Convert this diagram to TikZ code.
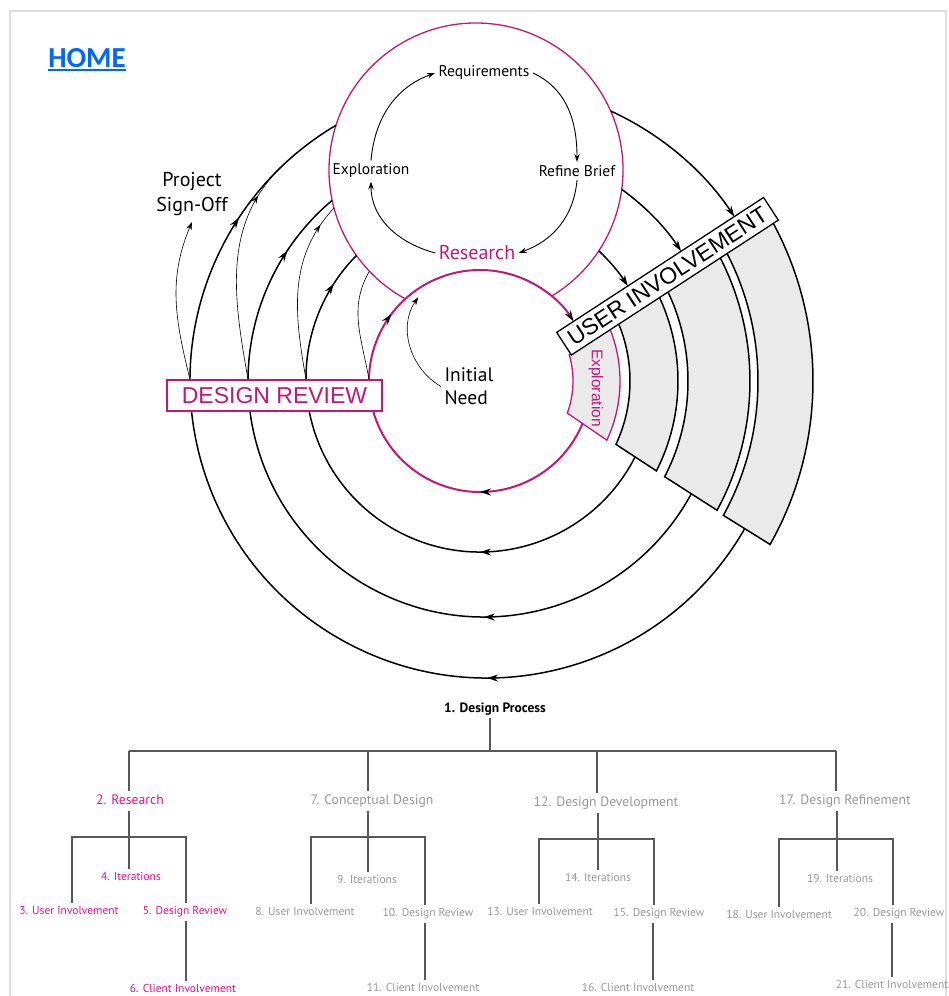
\documentclass[tikz,border=0pt]{standalone}
\usepackage{fontspec}
\setmainfont{PT Sans}
\newfontfamily\arialfont{Liberation Sans}
\newfontfamily\homefont{Carlito}
\usetikzlibrary{arrows.meta,decorations.markings}

\definecolor{mag}{RGB}{192,24,118}
\definecolor{pinktxt}{RGB}{236,10,140}
\definecolor{greytxt}{RGB}{150,150,150}
\definecolor{treeline}{RGB}{88,88,88}
\definecolor{bandgray}{RGB}{234,234,234}
\definecolor{homeblue}{RGB}{0,102,255}
\definecolor{framegray}{RGB}{222,222,222}

\tikzset{
  ring/.style={draw=black, line width=1.5pt},
  innerring/.style={draw=mag, line width=2pt},
  thinl/.style={draw=black, line width=0.6pt},
  loopl/.style={draw=black, line width=0.9pt},
  bigtip/.tip={Stealth[length=11pt,width=7pt,color=black]},
  smalltip/.tip={Stealth[length=8pt,width=5.5pt,color=black]},
  flow/.style n args={2}{postaction={decorate}, decoration={markings,
      mark=at position #1 with {\arrow{bigtip}},
      mark=at position #2 with {\arrow{bigtip}}}},
  midtip/.style={postaction={decorate}, decoration={markings,
      mark=at position #1 with {\arrow{smalltip}}}},
  band/.style={draw=black, line width=1.5pt, fill=bandgray},
  tl/.style={draw=treeline, line width=1.6pt},
  lvtwo/.style={font=\fontsize{13.7}{13.7}\selectfont, inner xsep=0pt, inner ysep=4pt,
      text height=9.5pt, text depth=3pt},
  lvthree/.style={font=\fontsize{11.5}{11.5}\selectfont, inner xsep=0pt, inner ysep=3.5pt,
      text height=8pt, text depth=2.5pt},
  pk/.style={text=pinktxt},
  gr/.style={text=greytxt},
}

\begin{document}
\begin{tikzpicture}[x=1pt,y=1pt]
\useasboundingbox (0,0) rectangle (949,-996);

% page frame
\draw[framegray, line width=2pt] (10,-1000) -- (10,-11) -- (946,-11) -- (946,-1000);

% home link
\node[font=\homefont\bfseries\fontsize{29}{29}\selectfont, text=homeblue, inner sep=0pt] (home) at (87,-58) {HOME};
\draw[homeblue, line width=2pt] ([yshift=-3pt]home.base west) -- ([yshift=-3pt]home.base east);

% research circle (upper loop)
\begin{scope}[shift={(476,-170)}]
  \draw[mag, line width=1.3pt] (-59.2:147) arc[start angle=-59.2, end angle=241.2, radius=147];
\end{scope}

% iteration rings, flowing clockwise
\begin{scope}[shift={(480,-378)}]
  \draw[ring, flow={0.322}{0.940}] (-26:174) arc[start angle=-26, end angle=-224.75, radius=174];
  \draw[ring, -bigtip] (46.95:174) arc[start angle=46.95, end angle=31.9, radius=174];
\end{scope}
\begin{scope}[shift={(484,-381)}]
  \draw[ring, flow={0.309}{0.919}] (-27.5:236) arc[start angle=-27.5, end angle=-229.96, radius=236];
  \draw[ring, -bigtip] (54.3:236) arc[start angle=54.3, end angle=33.4, radius=236];
\end{scope}
\begin{scope}[shift={(487,-381)}]
  \draw[ring, flow={0.2916}{0.8766}] (-28.5:297) arc[start angle=-28.5, end angle=-239.42, radius=297];
  \draw[ring, -bigtip] (65.38:297) arc[start angle=65.38, end angle=33.6, radius=297];
\end{scope}
\begin{scope}[shift={(480,-381)}]
  \draw[innerring, flow={0.2239}{0.6393}, -bigtip] (-21.5:111) arc[start angle=-21.5, end angle=-327.45, radius=111];

  % exploration tab and user involvement bands
  \draw[draw=mag, line width=1.3pt, fill=bandgray] (-20.2:93) -- (-25:140)
     arc[start angle=-25, end angle=22.7, radius=140] -- (16.4:93)
     arc[start angle=16.4, end angle=-20.2, radius=93] -- cycle;
  \draw[band] (-25:150) -- (-27:198) arc[start angle=-27, end angle=26.1, radius=198]
     -- (23.5:150) arc[start angle=23.5, end angle=-25, radius=150] -- cycle;
  \draw[band] (-27.4:208) -- (-28.6:270) arc[start angle=-28.6, end angle=28.3, radius=270]
     -- (26.5:208) arc[start angle=26.5, end angle=-27.4, radius=208] -- cycle;
  \draw[band] (-28.9:278) -- (-29.4:333) arc[start angle=-29.4, end angle=29.4, radius=333]
     -- (28.5:278) arc[start angle=28.5, end angle=-28.9, radius=278] -- cycle;
\end{scope}

\node[rotate=-90, text=mag, font=\arialfont\fontsize{15.5}{15.5}\selectfont] (tabtxt) at (596,-388) {Exploration};

\node[draw=black, line width=1.3pt, fill=white, rotate=33.1, minimum width=247pt, minimum height=27pt,
      inner sep=0pt, font=\arialfont\fontsize{23}{23}\selectfont] (ui) at (667.5,-276.25) {USER INVOLVEMENT};

% design review box
\node[draw=mag, line width=1.3pt, fill=white, minimum width=215pt, minimum height=31pt, inner sep=0pt,
      text=mag, font=\arialfont\fontsize{23}{23}\selectfont] (dr) at (274.5,-395.5) {DESIGN REVIEW};

% labels
\node[align=center, anchor=south, inner ysep=6pt, font=\fontsize{20}{25}\selectfont] (signoff) at (192,-222) {Project\\Sign-Off};
\node[align=left, anchor=west, font=\fontsize{19.5}{23}\selectfont] (need) at (441,-386.5) {Initial\\Need};

\node[font=\fontsize{15.5}{15.5}\selectfont] (req) at (484,-73) {Requirements};
\node[font=\fontsize{15.5}{15.5}\selectfont] (expl) at (371,-171) {Exploration};
\node[font=\fontsize{15.5}{15.5}\selectfont] (refine) at (577,-171) {Refine Brief};
\node[font=\fontsize{20}{20}\selectfont, text=mag] (research) at (477,-253) {Research};

\draw[loopl, -smalltip] (expl.north) to[out=85, in=200] (req.west);
\draw[loopl, -smalltip] (req.east) to[out=-25, in=90] (refine.north);
\draw[loopl, -smalltip] (refine.south) to[out=-95, in=20] (research.east);
\draw[loopl, -smalltip] (research.west) to[out=165, in=-90] (expl.south);

% review feedback arcs
\coordinate (t2e) at ([shift={(487,-381)}]133:297);
\coordinate (t3e) at ([shift={(476,-170)}]195:147);
\coordinate (t4e) at ([shift={(476,-170)}]223.5:147);
\coordinate (t5e) at ([shift={(480,-381)}]126.4:104);

\draw[thinl, -smalltip] (190,0 |- dr.north) to[out=104, in=-113] (signoff.south);
\draw[thinl, midtip=0.82] (248,0 |- dr.north) to[out=100, in=223] (t2e);
\draw[thinl, midtip=0.88] (306,0 |- dr.north) to[out=100, in=227] (t3e);
\draw[thinl] (369,0 |- dr.north) to[out=100, in=240] (t4e);
\draw[thinl, -smalltip] (need.west) to[out=150, in=235] (t5e);

% breakdown tree
\node[font=\bfseries\fontsize{13.5}{13.5}\selectfont, inner ysep=3pt, text height=9pt, text depth=3pt] (n1) at (495,-709) {1. Design Process};

\node[lvtwo, pk] (n2) at (130,-801) {2. Research};
\node[lvtwo, gr] (n7) at (372,-801) {7. Conceptual Design};
\node[lvtwo, gr] (n12) at (606,-803) {12. Design Development};
\node[lvtwo, gr] (n17) at (845,-801) {17. Design Refinement};

\node[lvthree, pk] (n4) at (131,-878) {4. Iterations};
\node[lvthree, pk] (n3) at (69,-912) {3. User Involvement};
\node[lvthree, pk] (n5) at (185,-912) {5. Design Review};
\node[lvthree, pk] (n6) at (183,-990) {6. Client Involvement};

\node[lvthree, gr] (n9) at (367,-881) {9. Iterations};
\node[lvthree, gr] (n8) at (305,-913) {8. User Involvement};
\node[lvthree, gr] (n10) at (428,-914) {10. Design Review};
\node[lvthree, gr] (n11) at (423,-989) {11. Client Involvement};

\node[lvthree, gr] (n14) at (598,-879) {14. Iterations};
\node[lvthree, gr] (n13) at (540,-913) {13. User Involvement};
\node[lvthree, gr] (n15) at (659,-914) {15. Design Review};
\node[lvthree, gr] (n16) at (638,-989) {16. Client Involvement};

\node[lvthree, gr] (n19) at (840,-880) {19. Iterations};
\node[lvthree, gr] (n18) at (779,-916) {18. User Involvement};
\node[lvthree, gr] (n20) at (899,-914) {20. Design Review};
\node[lvthree, gr] (n21) at (892,-986) {21. Client Involvement};

\coordinate (bus) at (490,-751);
\draw[tl] (490,0 |- n1.south) -- (bus);
\draw[tl] (129,0 |- bus) -- (836,0 |- bus);
\draw[tl] (129,0 |- bus) -- (129,0 |- n2.north);
\draw[tl] (368,0 |- bus) -- (368,0 |- n7.north);
\draw[tl] (597,0 |- bus) -- (597,0 |- n12.north);
\draw[tl] (836,0 |- bus) -- (836,0 |- n17.north);

\draw[tl] (129,0 |- n2.south) -- (129,0 |- n4.north);
\draw[tl] (72,0 |- n3.north) |- (186,-837) -- (186,0 |- n5.north);
\draw[tl] (186,0 |- n5.south) -- (186,0 |- n6.north);

\draw[tl] (368,0 |- n7.south) -- (368,0 |- n9.north);
\draw[tl] (311,0 |- n8.north) |- (425,-837) -- (425,0 |- n10.north);
\draw[tl] (425,0 |- n10.south) -- (425,0 |- n11.north);

\draw[tl] (598,0 |- n12.south) -- (598,0 |- n14.north);
\draw[tl] (539,0 |- n13.north) |- (654,-839) -- (654,0 |- n15.north);
\draw[tl] (653,0 |- n15.south) -- (653,0 |- n16.north);

\draw[tl] (837,0 |- n17.south) -- (837,0 |- n19.north);
\draw[tl] (779,0 |- n18.north) |- (893,-839) -- (893,0 |- n20.north);
\draw[tl] (892,0 |- n20.south) -- (892,0 |- n21.north);
\end{tikzpicture}
\end{document}
